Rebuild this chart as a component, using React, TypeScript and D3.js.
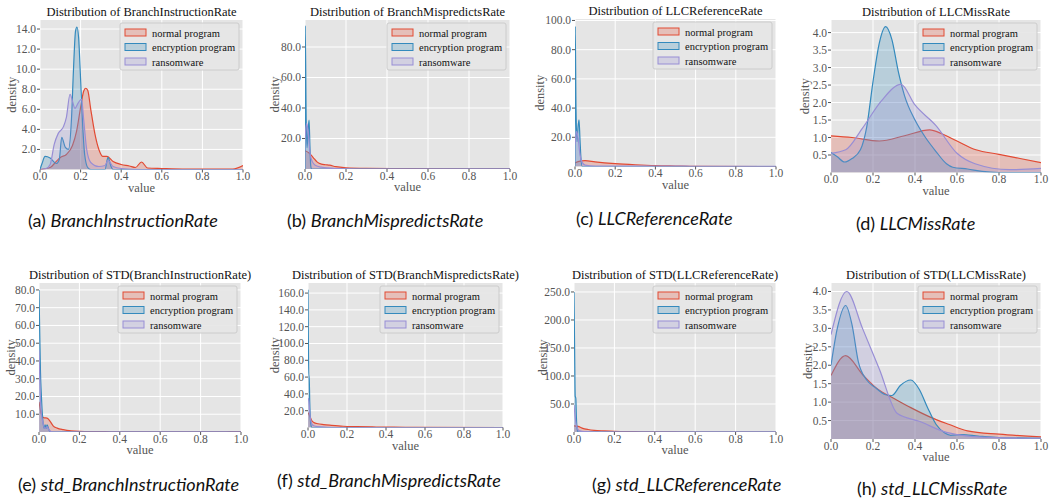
import * as d3 from "d3";

// ---- data ----
const seriesNames = ["normal program", "encryption program", "ransomware"];
const xTicks = [0, 0.2, 0.4, 0.6, 0.8, 1.0];

const titles = [
  "Distribution of BranchInstructionRate",
  "Distribution of BranchMispredictsRate",
  "Distribution of LLCReferenceRate",
  "Distribution of LLCMissRate",
  "Distribution of STD(BranchInstructionRate)",
  "Distribution of STD(BranchMispredictsRate)",
  "Distribution of STD(LLCReferenceRate)",
  "Distribution of STD(LLCMissRate)",
];
const captionTags = ["(a)", "(b)", "(c)", "(d)", "(e)", "(f)", "(g)", "(h)"];
const captionNames = [
  "BranchInstructionRate",
  "BranchMispredictsRate",
  "LLCReferenceRate",
  "LLCMissRate",
  "std_BranchInstructionRate",
  "std_BranchMispredictsRate",
  "std_LLCReferenceRate",
  "std_LLCMissRate",
];

const yTicksList = [
  [2, 4, 6, 8, 10, 12, 14],
  [20, 40, 60, 80],
  [20, 40, 60, 80, 100],
  [0.5, 1, 1.5, 2, 2.5, 3, 3.5, 4],
  [10, 20, 30, 40, 50, 60, 70, 80],
  [20, 40, 60, 80, 100, 120, 140, 160],
  [50, 100, 150, 200, 250],
  [0.5, 1, 1.5, 2, 2.5, 3, 3.5, 4],
];
const yMaxList = [14.9, 97.7, 101, 4.36, 83.9, 172, 266, 4.23];

// (a) BranchInstructionRate
const briNormal = [[0,0],[0.05,0.2],[0.08,0.8],[0.1,1.2],[0.13,1.5],[0.16,2.4],[0.18,3.8],[0.2,6.2],[0.215,7.8],[0.225,8.1],[0.235,7.9],[0.25,6],[0.27,3.6],[0.29,2],[0.31,1.3],[0.33,1.3],[0.36,0.8],[0.4,0.5],[0.44,0.35],[0.47,0.2],[0.5,0.75],[0.53,0.15],[0.6,0.1],[0.7,0.05],[0.95,0.05],[1,0.4]];
const briEncrypt = [[0,0],[0.01,0.6],[0.025,1.3],[0.05,1.15],[0.08,0.6],[0.095,1.0],[0.107,3.2],[0.125,2.2],[0.14,2.0],[0.155,5],[0.165,10],[0.175,13.8],[0.182,14.2],[0.19,13.2],[0.2,9],[0.21,4.5],[0.22,1.5],[0.235,0.2],[0.25,0],[0.32,0],[0.335,1.2],[0.35,0.3],[0.36,0],[1,0]];
const briRansom = [[0,0],[0.03,0.1],[0.05,0.5],[0.07,2.5],[0.09,3.6],[0.115,4.25],[0.13,5.2],[0.148,7.5],[0.16,6.8],[0.172,6.1],[0.19,6.7],[0.205,7.0],[0.215,5],[0.23,2],[0.25,0.7],[0.29,0.3],[0.32,0.4],[0.335,0.9],[0.36,0.3],[0.4,0.1],[0.5,0],[1,0]];

// (b) BranchMispredictsRate
const bmrNormal = [[0,12],[0.02,10.5],[0.04,7.5],[0.06,4.5],[0.08,3.2],[0.1,2.8],[0.12,2.5],[0.15,1.5],[0.2,0.8],[0.3,0.4],[0.5,0.2],[0.8,0.1],[1,0.1]];
const bmrEncrypt = [[0,0],[0.001,94],[0.006,30],[0.01,14],[0.015,25],[0.02,32],[0.024,15],[0.028,2],[0.032,0],[1,0]];
const bmrRansom = [[0,20],[0.008,30],[0.015,25],[0.025,10],[0.035,5],[0.05,2.5],[0.08,1.2],[0.15,0.3],[0.25,0],[1,0]];

// (c) LLCReferenceRate
const lrrNormal = [[0,2.5],[0.02,3.5],[0.05,4],[0.1,3.2],[0.2,2],[0.3,1.2],[0.4,0.6],[0.5,0.3],[0.6,0.05],[1,0]];
const lrrEncrypt = [[0,0],[0.001,96],[0.005,40],[0.01,17],[0.015,27],[0.02,32],[0.025,18],[0.03,5],[0.036,0],[1,0]];
const lrrRansom = [[0,15],[0.008,24],[0.015,20],[0.025,8],[0.035,3],[0.05,1],[0.1,0.3],[0.55,0.2],[0.6,0.05],[1,0.02]];

// (d) LLCMissRate
const lmrNormal = [[0,1.05],[0.1,1.0],[0.23,0.9],[0.35,1.05],[0.47,1.22],[0.53,1.1],[0.6,0.9],[0.69,0.65],[0.8,0.52],[0.9,0.4],[1,0.28]];
const lmrEncrypt = [[0,0.57],[0.03,0.45],[0.065,0.3],[0.1,0.4],[0.14,0.65],[0.17,1.3],[0.2,2.6],[0.23,3.7],[0.26,4.17],[0.29,3.8],[0.32,2.9],[0.35,2.2],[0.4,1.5],[0.45,1.0],[0.5,0.6],[0.55,0.25],[0.58,0.15],[0.65,0.1],[0.72,0.03],[0.8,0],[1,0]];
const lmrRansom = [[0,0.55],[0.07,0.65],[0.15,1.27],[0.24,2.05],[0.333,2.52],[0.4,1.93],[0.5,1.34],[0.6,0.55],[0.686,0.25],[0.85,0.08],[1,0.12]];

// (e) std_BranchInstructionRate
const sbiNormal = [[0,17],[0.015,9],[0.025,8],[0.04,7.8],[0.055,6],[0.07,3.5],[0.09,2.2],[0.12,1.3],[0.16,0.6],[0.2,0.3],[0.25,0.2],[0.3,0.25],[0.35,0.1],[0.5,0.05],[0.9,0.05],[0.95,0.2],[1,0.2]];
const sbiEncrypt = [[0,80],[0.003,60],[0.007,35],[0.012,20],[0.018,8],[0.025,2],[0.03,4],[0.035,2],[0.04,4],[0.05,1],[0.06,0],[1,0]];
const sbiRansom = [[0,46],[0.005,25],[0.01,12],[0.02,5],[0.03,2],[0.04,3],[0.05,1],[0.07,0],[1,0]];

// (f) std_BranchMispredictsRate
const sbmNormal = [[0,18],[0.01,13],[0.02,8],[0.03,6],[0.05,4.5],[0.08,3.5],[0.12,2.6],[0.18,1.5],[0.25,1],[0.35,0.6],[0.5,0.2],[0.55,0.05],[1,0]];
const sbmEncrypt = [[0,164],[0.002,100],[0.004,62],[0.006,62],[0.009,30],[0.012,10],[0.016,2],[0.02,0],[1,0]];
const sbmRansom = [[0,35],[0.005,30],[0.01,15],[0.015,8],[0.02,4],[0.03,2],[0.05,1],[0.1,0.3],[0.2,0],[1,0]];

// (g) std_LLCReferenceRate
const slrNormal = [[0,11],[0.02,10],[0.04,7],[0.07,4.5],[0.1,3],[0.15,2],[0.2,1.2],[0.3,0.6],[0.4,0.3],[0.5,0.1],[0.6,0],[1,0]];
const slrEncrypt = [[0,250],[0.003,150],[0.006,64],[0.009,60],[0.012,25],[0.016,5],[0.02,0],[1,0]];
const slrRansom = [[0,48],[0.005,30],[0.01,15],[0.015,8],[0.02,4],[0.03,2],[0.05,0.5],[0.1,0],[1,0]];

// (h) std_LLCMissRate
const slmNormal = [[0,1.72],[0.07,2.26],[0.15,1.75],[0.22,1.36],[0.3,1.1],[0.38,0.85],[0.47,0.6],[0.56,0.4],[0.65,0.22],[0.8,0.13],[1,0.06]];
const slmEncrypt = [[0,2.0],[0.03,3.0],[0.07,3.62],[0.1,3.1],[0.13,2.1],[0.17,1.6],[0.21,1.4],[0.26,1.2],[0.29,1.18],[0.33,1.45],[0.38,1.6],[0.42,1.35],[0.46,0.85],[0.5,0.4],[0.54,0.17],[0.57,0.1],[0.62,0.12],[0.7,0.08],[0.8,0.04],[1,0.02]];
const slmRansom = [[0,2.83],[0.075,4.0],[0.15,3.0],[0.23,1.9],[0.316,0.69],[0.42,0.48],[0.55,0.18],[0.6,0.12],[0.7,0.06],[0.85,0.03],[1,0.02]];

const seriesByPanel = [
  [briNormal, briEncrypt, briRansom],
  [bmrNormal, bmrEncrypt, bmrRansom],
  [lrrNormal, lrrEncrypt, lrrRansom],
  [lmrNormal, lmrEncrypt, lmrRansom],
  [sbiNormal, sbiEncrypt, sbiRansom],
  [sbmNormal, sbmEncrypt, sbmRansom],
  [slrNormal, slrEncrypt, slrRansom],
  [slmNormal, slmEncrypt, slmRansom],
];

// ---- layout / style ----
const colors = ["#E24A33", "#348ABD", "#988ED5"];
const layout = [
  { x0: 40, x1: 243, top: 20, bottom: 169.5, labX: 12, capX: 28, capY: 227 },
  { x0: 305, x1: 510, top: 20, bottom: 169, labX: 275, capX: 287, capY: 227 },
  { x0: 575, x1: 776, top: 19, bottom: 166.5, labX: 540, capX: 576, capY: 225 },
  { x0: 831, x1: 1041, top: 20, bottom: 172.5, labX: 805, capX: 856, capY: 230 },
  { x0: 39, x1: 241, top: 283, bottom: 432, labX: 11, capX: 18, capY: 491 },
  { x0: 308, x1: 503, top: 283, bottom: 427.5, labX: 275, capX: 277, capY: 487 },
  { x0: 574, x1: 776, top: 283, bottom: 432, labX: 543, capX: 592, capY: 491 },
  { x0: 831, x1: 1041, top: 283, bottom: 439, labX: 808, capX: 857, capY: 495 },
];
const serif = "'Liberation Serif', 'DejaVu Serif', serif";
const capFont = "Lato, 'Open Sans', sans-serif";
const fmt = d3.format(".1f");

function Panel({ i }: { i: number }) {
  const L = layout[i];
  const x = d3.scaleLinear().domain([0, 1]).range([L.x0, L.x1]);
  const y = d3.scaleLinear().domain([0, yMaxList[i]]).range([L.bottom, L.top]);
  const area = d3
    .area<number[]>()
    .x((d) => x(d[0]))
    .y0(y(0))
    .y1((d) => y(d[1]))
    .curve(d3.curveMonotoneX);
  const line = d3
    .line<number[]>()
    .x((d) => x(d[0]))
    .y((d) => y(d[1]))
    .curve(d3.curveMonotoneX);
  const clipId = `clip${i}`;
  const lw = 119;
  const lx = L.x1 - 4 - lw;
  const ly = L.top + 3;
  const midX = (L.x0 + L.x1) / 2;
  const midY = (L.top + L.bottom) / 2;
  return (
    <g>
      <defs>
        <clipPath id={clipId}>
          <rect x={L.x0} y={L.top} width={L.x1 - L.x0} height={L.bottom - L.top} />
        </clipPath>
      </defs>
      <rect x={L.x0} y={L.top} width={L.x1 - L.x0} height={L.bottom - L.top} fill="#E5E5E5" />
      {xTicks.map((t) => (
        <line key={"gx" + t} x1={x(t)} x2={x(t)} y1={L.top} y2={L.bottom} stroke="#fff" strokeWidth={1} />
      ))}
      {yTicksList[i].map((t) => (
        <line key={"gy" + t} x1={L.x0} x2={L.x1} y1={y(t)} y2={y(t)} stroke="#fff" strokeWidth={1} />
      ))}
      <g clipPath={`url(#${clipId})`}>
        {seriesByPanel[i].map((s, k) => (
          <g key={k}>
            <path d={area(s) || ""} fill={colors[k]} fillOpacity={0.25} />
            <path d={line(s) || ""} fill="none" stroke={colors[k]} strokeWidth={1.2} />
          </g>
        ))}
      </g>
      {xTicks.map((t) => (
        <g key={"tx" + t}>
          <line x1={x(t)} x2={x(t)} y1={L.bottom} y2={L.bottom + 3} stroke="#555" />
          <text x={x(t)} y={L.bottom + 10.5} textAnchor="middle" fontFamily={serif} fontSize={11.5} fill="#555">
            {fmt(t)}
          </text>
        </g>
      ))}
      {yTicksList[i].map((t) => (
        <g key={"ty" + t}>
          <line x1={L.x0 - 3} x2={L.x0} y1={y(t)} y2={y(t)} stroke="#555" />
          <text x={L.x0 - 4} y={y(t) + 4} textAnchor="end" fontFamily={serif} fontSize={11.5} fill="#555">
            {fmt(t)}
          </text>
        </g>
      ))}
      <text x={midX} y={L.top - 4} textAnchor="middle" fontFamily={serif} fontSize={12.5} fill="#111">
        {titles[i]}
      </text>
      <text x={midX} y={L.bottom + 22} textAnchor="middle" fontFamily={serif} fontSize={12.5} fill="#555">
        value
      </text>
      <text
        transform={`translate(${L.labX + 4},${midY}) rotate(-90)`}
        textAnchor="middle"
        fontFamily={serif}
        fontSize={12.5}
        fill="#555"
      >
        density
      </text>
      <rect x={lx} y={ly} width={lw} height={47} rx={2} fill="#E5E5E5" fillOpacity={0.9} stroke="#CCCCCC" />
      {seriesNames.map((n, k) => (
        <g key={n}>
          <rect
            x={lx + 5}
            y={ly + 6 + k * 14.5}
            width={21}
            height={7}
            fill={colors[k]}
            fillOpacity={0.25}
            stroke={colors[k]}
            strokeWidth={1}
          />
          <text x={lx + 32} y={ly + 13.5 + k * 14.5} fontFamily={serif} fontSize={10.5} fill="#111">
            {n}
          </text>
        </g>
      ))}
      <text x={L.capX} y={L.capY} fontFamily={capFont} fontSize={18} fill="#111">
        {captionTags[i]}{" "}
        <tspan fontStyle="italic">{captionNames[i]}</tspan>
      </text>
    </g>
  );
}

export default function App() {
  return (
    <svg
      width={1060}
      height={504}
      style={{ position: "absolute", left: 0, top: 0, background: "#fff" }}
    >
      <rect width={1060} height={504} fill="#fff" />
      {titles.map((_, i) => (
        <Panel key={i} i={i} />
      ))}
    </svg>
  );
}
